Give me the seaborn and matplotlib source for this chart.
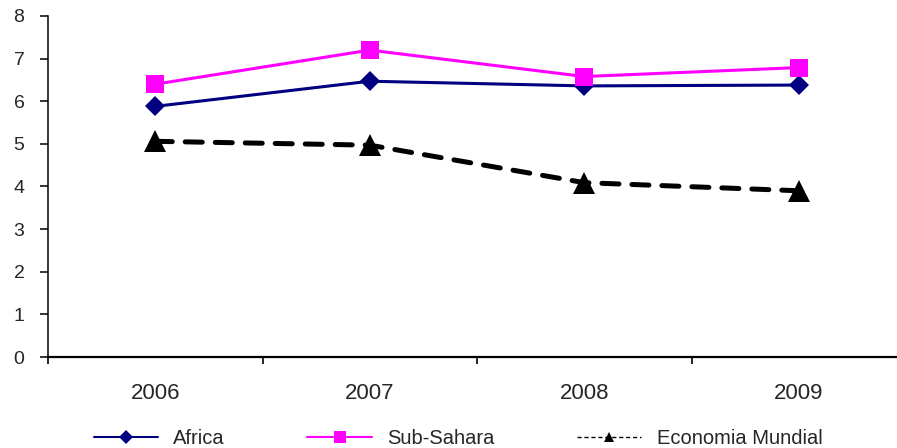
import matplotlib
matplotlib.use("Agg")
import matplotlib.pyplot as plt
from matplotlib.lines import Line2D
import pandas as pd
import seaborn as sns

years = ["2006", "2007", "2008", "2009"]
africa = [5.88, 6.47, 6.36, 6.38]
sub_sahara = [6.40, 7.20, 6.58, 6.79]
economia_mundial = [5.06, 4.97, 4.09, 3.90]

sns.set_style("white")
plt.rcParams["font.family"] = ["Liberation Sans", "DejaVu Sans"]

df = pd.DataFrame({"year": years, "Africa": africa,
                   "Sub-Sahara": sub_sahara, "Economia Mundial": economia_mundial})

fig = plt.figure(figsize=(8.97, 4.48), dpi=100)
ax = fig.add_axes([48 / 897, 91 / 448, 858 / 897, 341 / 448])

sns.lineplot(data=df, x="year", y="Africa", ax=ax, color="#000080",
             linewidth=2.2, marker="D", markersize=10, markeredgewidth=0)
sns.lineplot(data=df, x="year", y="Sub-Sahara", ax=ax, color="#FF00FF",
             linewidth=2.2, marker="s", markersize=12.5, markeredgewidth=0)
sns.lineplot(data=df, x="year", y="Economia Mundial", ax=ax, color="black",
             linewidth=3.6, marker="^", markersize=15.5, markeredgewidth=0,
             dashes=False, linestyle=(0, (3.4, 2.6)), dash_capstyle="round")

ax.set_xlim(-0.5, 3.5)
ax.set_ylim(0, 8)
ax.set_yticks(range(0, 9))
ax.set_xlabel("")
ax.set_ylabel("")

for s in ["top", "right"]:
    ax.spines[s].set_visible(False)
ax.spines["left"].set_color("black")
ax.spines["left"].set_linewidth(1.1)
ax.spines["bottom"].set_color("black")
ax.spines["bottom"].set_linewidth(1.6)

ax.set_xticks([-0.5, 0.5, 1.5, 2.5, 3.5], minor=True)
ax.tick_params(axis="x", which="major", length=0, pad=19, labelsize=16)
ax.tick_params(axis="x", which="minor", length=5, width=1.2, direction="out",
               color="black", bottom=True)
ax.tick_params(axis="y", length=6, width=1.1, direction="out", color="black",
               left=True, pad=11, labelsize=14)

handles = [
    Line2D([], [], color="#000080", linewidth=1.5, marker="D", markersize=7,
           markeredgewidth=0),
    Line2D([], [], color="#FF00FF", linewidth=1.5, marker="s", markersize=8.4,
           markeredgewidth=0),
    Line2D([], [], color="black", linewidth=1.0, linestyle=(0, (3, 2)),
           marker="^", markersize=6.5, markeredgewidth=0),
]
fig.legend(handles, ["Africa", "Sub-Sahara", "Economia Mundial"],
           loc="center", bbox_to_anchor=(458 / 897, 1 - 438.5 / 448), ncol=3,
           frameon=False, fontsize=14.5, handlelength=3.2, handletextpad=0.75,
           columnspacing=4.1)

fig.savefig("out.png", dpi=100)
